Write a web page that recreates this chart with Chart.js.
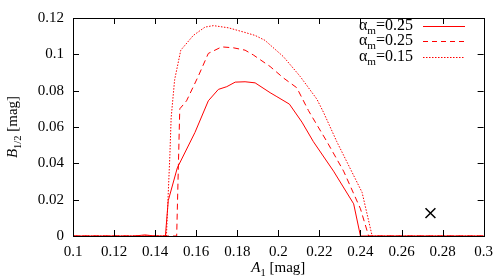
<!DOCTYPE html>
<html>
<head>
<meta charset="utf-8">
<script src="https://cdn.jsdelivr.net/npm/chart.js@4"></script>
<style>
  html, body { margin: 0; padding: 0; background: #fff; }
  #wrap { width: 500px; height: 279px; }
</style>
</head>
<body>
<div id="wrap"><canvas id="chart"></canvas></div>
<script>
// x values (A1) and y values (B1/2)
const a1Solid = [0.1, 0.13, 0.135, 0.14, 0.145, 0.1464, 0.1508, 0.1594, 0.1659, 0.1708, 0.1749, 0.179, 0.1838, 0.1887, 0.196, 0.1993, 0.2054, 0.2115, 0.2171, 0.2269, 0.2367, 0.240, 0.3];
const bSolid  = [0, 0, 0.0006, 0, 0, 0.0195, 0.0375, 0.057, 0.0744, 0.0807, 0.0822, 0.0847, 0.0849, 0.0843, 0.0789, 0.0767, 0.0726, 0.0627, 0.0519, 0.0357, 0.0177, 0, 0];

const a1Dashed = [0.1, 0.1505, 0.152, 0.1553, 0.161, 0.1659, 0.1724, 0.1781, 0.1838, 0.1879, 0.196, 0.2025, 0.209, 0.2147, 0.218, 0.2237, 0.2318, 0.240, 0.244, 0.3];
const bDashed  = [0, 0, 0.07, 0.0744, 0.0879, 0.1005, 0.1041, 0.1036, 0.1023, 0.0996, 0.0933, 0.087, 0.0816, 0.069, 0.0627, 0.0519, 0.0357, 0.015, 0, 0];

const a1Dotted = [0.1, 0.1455, 0.1472, 0.1478, 0.1495, 0.1525, 0.1586, 0.1643, 0.1684, 0.1757, 0.183, 0.1887, 0.1935, 0.2025, 0.2106, 0.2188, 0.222, 0.2285, 0.2408, 0.2457, 0.3];
const bDotted  = [0, 0, 0.045, 0.065, 0.086, 0.1023, 0.1104, 0.115, 0.1158, 0.1146, 0.1123, 0.1104, 0.1077, 0.0987, 0.0879, 0.0753, 0.0681, 0.0519, 0.024, 0, 0];

const markerX = [0.2741];
const markerY = [0.0126];

const legendValues = ["0.25", "0.25", "0.15"];

const SERIF = "'Liberation Serif', 'DejaVu Serif', serif";
const RED = "#ff0000";

const toPoints = (xs, ys) => xs.map((x, i) => ({ x, y: ys[i] }));
const fmt = v => String(parseFloat(Number(v).toFixed(3)));

// draws text pieces [{t, italic, sub}] starting at x, baseline y
function drawPieces(ctx, pieces, x, y, size) {
  pieces.forEach(p => {
    const s = p.sub ? size * 0.7 : size;
    ctx.font = (p.italic ? "italic " : "") + s + "px " + SERIF;
    ctx.fillText(p.t, x, y + (p.sub ? size * 0.25 : 0));
    x += ctx.measureText(p.t).width;
  });
  return x;
}
function piecesWidth(ctx, pieces, size) {
  let w = 0;
  pieces.forEach(p => {
    const s = p.sub ? size * 0.7 : size;
    ctx.font = (p.italic ? "italic " : "") + s + "px " + SERIF;
    w += ctx.measureText(p.t).width;
  });
  return w;
}

const frame = {
  id: "frame",
  afterDraw(chart) {
    const { ctx, chartArea: a, scales: { x, y } } = chart;
    ctx.save();
    ctx.strokeStyle = "#000";
    ctx.lineWidth = 1;
    ctx.strokeRect(Math.round(a.left) + 0.5, Math.round(a.top) + 0.5,
      Math.round(a.right - a.left), Math.round(a.bottom - a.top));
    // inward ticks on all four sides
    const len = 6;
    ctx.beginPath();
    x.ticks.forEach(t => {
      const px = Math.round(x.getPixelForValue(t.value)) + 0.5;
      ctx.moveTo(px, a.bottom); ctx.lineTo(px, a.bottom - len);
      ctx.moveTo(px, a.top); ctx.lineTo(px, a.top + len);
    });
    y.ticks.forEach(t => {
      const py = Math.round(y.getPixelForValue(t.value)) + 0.5;
      ctx.moveTo(a.left, py); ctx.lineTo(a.left + len, py);
      ctx.moveTo(a.right, py); ctx.lineTo(a.right - len, py);
    });
    ctx.stroke();

    ctx.fillStyle = "#000";
    ctx.textBaseline = "alphabetic";
    ctx.textAlign = "left";
    const size = 15;

    // x axis title
    const xt = [{ t: "A", italic: true }, { t: "1", sub: true }, { t: " [mag]" }];
    const xw = piecesWidth(ctx, xt, size);
    drawPieces(ctx, xt, (a.left + a.right) / 2 - xw / 2, 272, size);

    // y axis title
    const yt = [{ t: "B", italic: true }, { t: "1/2", sub: true }, { t: " [mag]" }];
    const yw = piecesWidth(ctx, yt, size);
    ctx.save();
    ctx.translate(17, (a.top + a.bottom) / 2);
    ctx.rotate(-Math.PI / 2);
    drawPieces(ctx, yt, -yw / 2, 0, size);
    ctx.restore();

    // legend
    const dashes = [[], [5, 4], [1.5, 1.5]];
    const lsize = 16;
    legendValues.forEach((v, i) => {
      const base = 29.5 + i * 15.5;
      const pcs = [{ t: "\u03b1" }, { t: "m", sub: true }, { t: "=" + v }];
      const w = piecesWidth(ctx, pcs, lsize);
      ctx.fillStyle = "#000";
      drawPieces(ctx, pcs, 413 - w, base, lsize);
      ctx.strokeStyle = RED;
      ctx.lineWidth = 1;
      ctx.setLineDash(dashes[i]);
      ctx.beginPath();
      const ly = Math.round(base - 4) + 0.5;
      ctx.moveTo(423, ly);
      ctx.lineTo(465, ly);
      ctx.stroke();
    });
    ctx.setLineDash([]);
    ctx.restore();
  }
};

function build() {
  new Chart(document.getElementById("chart"), {
    type: "line",
    data: {
      datasets: [
        { data: toPoints(a1Solid, bSolid), borderColor: RED, borderWidth: 1, pointRadius: 0, tension: 0 },
        { data: toPoints(a1Dashed, bDashed), borderColor: RED, borderWidth: 1, borderDash: [6, 4], pointRadius: 0, tension: 0 },
        { data: toPoints(a1Dotted, bDotted), borderColor: RED, borderWidth: 1, borderDash: [1.5, 1.5], pointRadius: 0, tension: 0 },
        { type: "scatter", data: toPoints(markerX, markerY), pointStyle: "crossRot", pointRadius: 7,
          borderColor: "#000", backgroundColor: "#000", borderWidth: 1.5, showLine: false }
      ]
    },
    options: {
      responsive: true,
      maintainAspectRatio: false,
      animation: false,
      layout: { padding: { top: 14, right: 16, left: 0, bottom: 0 } },
      plugins: { legend: { display: false }, tooltip: { enabled: false } },
      scales: {
        x: {
          type: "linear", min: 0.1, max: 0.3,
          afterFit: s => { s.height = 43; },
          grid: { display: false, drawTicks: false },
          border: { display: false },
          ticks: { stepSize: 0.02, padding: 7, color: "#000", maxRotation: 0,
            font: { family: SERIF, size: 15 }, callback: v => fmt(v) }
        },
        y: {
          min: 0, max: 0.12,
          afterFit: s => { s.width = 73; },
          grid: { display: false, drawTicks: false },
          border: { display: false },
          ticks: { stepSize: 0.02, padding: 9, color: "#000",
            font: { family: SERIF, size: 15 }, callback: v => fmt(v) }
        }
      }
    },
    plugins: [frame]
  });
}

Promise.all([
  document.fonts.load("15px 'Liberation Serif'"),
  document.fonts.load("italic 15px 'Liberation Serif'")
]).then(build, build);
</script>
</body>
</html>
